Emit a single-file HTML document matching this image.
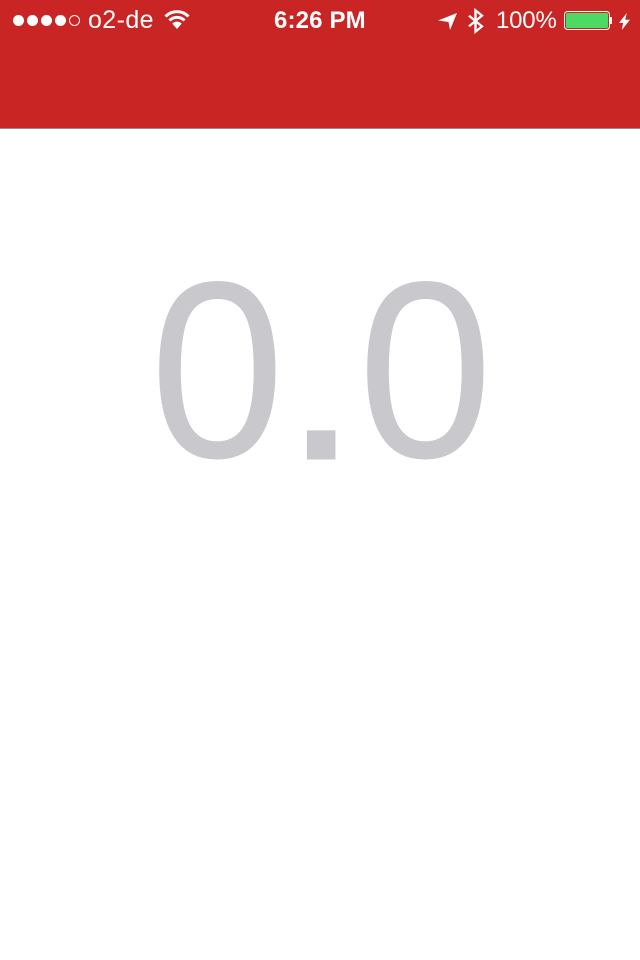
<!DOCTYPE html>
<html lang="en">
<head>
<meta charset="utf-8">
<title>Speed display</title>
<style>
html,body{margin:0;padding:0;width:640px;height:960px;overflow:hidden;background:#fff;font-family:"Liberation Sans",sans-serif}
#header{position:absolute;left:0;top:0;width:640px;height:129px;background:#c92524;border-bottom:1px solid #8f8f8f;box-sizing:border-box}
.t{position:absolute;color:#fff;white-space:nowrap;line-height:28px;font-size:24px}
.dot{position:absolute;top:15px;width:11px;height:11px;border-radius:50%;background:#fff;box-sizing:border-box}
svg{position:absolute;overflow:visible}
#value text{fill:#c8c8cd;font-family:"Liberation Sans",sans-serif}
</style>
</head>
<body>
<div id="header"></div>

<div class="dot" style="left:13px"></div>
<div class="dot" style="left:27px"></div>
<div class="dot" style="left:41px"></div>
<div class="dot" style="left:55px"></div>
<div class="dot" style="left:69px;background:none;border:1px solid #fff"></div>

<div class="t" style="left:88px;top:6px;font-size:25px;letter-spacing:.4px">o2-de</div>

<svg style="left:164px;top:10px" width="26" height="20" viewBox="0 0 26 20">
  <path d="M1.5 6.5 A16 16 0 0 1 24.5 6.5" fill="none" stroke="#fff" stroke-width="3"/>
  <path d="M5.5 10.5 A10.5 10.5 0 0 1 20.5 10.5" fill="none" stroke="#fff" stroke-width="3"/>
  <path d="M13 19 L8.3 13.6 A6.5 6.5 0 0 1 17.7 13.6 Z" fill="#fff"/>
</svg>

<div class="t" style="left:274px;top:7px;font-weight:bold;font-size:24px;letter-spacing:.15px">6:26 PM</div>

<svg style="left:438px;top:13px" width="19" height="17" viewBox="0 0 19 18" preserveAspectRatio="none">
  <path d="M0 8 L19 0 L12 18 L10.5 9.5 Z" fill="#fff"/>
</svg>

<svg style="left:467px;top:9px" width="18" height="24" viewBox="0 0 18 27" preserveAspectRatio="none">
  <path d="M2 7.5 L15 19.5 L8.5 25.5 V1.5 L15 7.5 L2 19.5" fill="none" stroke="#fff" stroke-width="2.4"/>
</svg>

<div class="t" style="left:496px;top:7px;font-size:24px;letter-spacing:-.2px">100%</div>

<svg style="left:564px;top:11px" width="48" height="19" viewBox="0 0 48 19">
  <rect x="0.5" y="0.5" width="45" height="18" rx="3" fill="none" stroke="#fff" stroke-width="1"/>
  <rect x="2" y="2" width="42" height="15" rx="1.5" fill="#4cd964"/>
  <rect x="46" y="6" width="2" height="7" fill="#fff"/>
</svg>

<svg style="left:619px;top:13px" width="11" height="17" viewBox="0 0 12 19" preserveAspectRatio="none">
  <path d="M8.5 0 L0 11 H4.5 L3 19 L12 7.5 H6.8 Z" fill="#fff"/>
</svg>

<svg id="value" style="left:0;top:0" width="640" height="960" viewBox="0 0 640 960">
  <text transform="translate(149.7,457) scale(.965,1)" font-size="252">0</text>
  <text transform="translate(279.5,459.5) scale(1,.906)" font-size="300">.</text>
  <text transform="translate(357.7,457) scale(.965,1)" font-size="252">0</text>
</svg>
</body>
</html>
